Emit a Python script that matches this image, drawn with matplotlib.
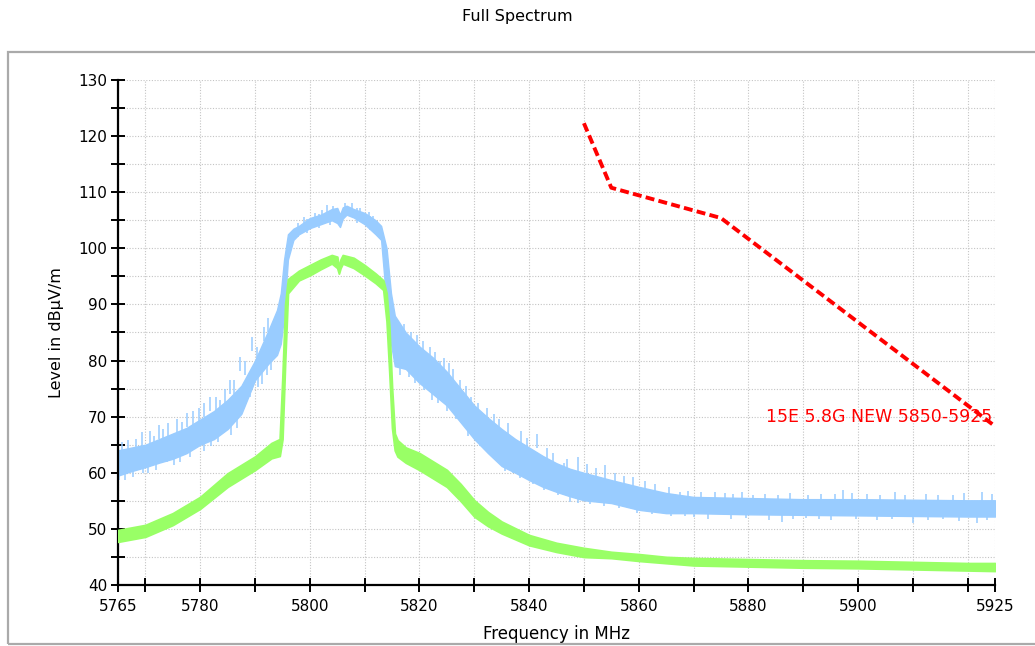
import matplotlib
matplotlib.use("Agg")
import matplotlib.pyplot as plt
from matplotlib.patches import Rectangle

# ---------------- data ----------------
title = "Full Spectrum"
xlabel = "Frequency in MHz"
ylabel = "Level in dBµV/m"
limit_label = "15E 5.8G NEW 5850-5925"

# blue trace envelope (upper / lower edge of the noisy band)
blue_f = [5765, 5767.5, 5770, 5772.5, 5775, 5777.5, 5780, 5782.5, 5785, 5787.5,
          5790, 5792.5, 5794, 5794.7, 5795.3, 5796, 5797, 5798, 5800, 5802, 5804,
          5805, 5805.5, 5806, 5806.7, 5808, 5810, 5812, 5813, 5814, 5814.8, 5815.5,
          5817.5, 5820, 5822.5, 5825, 5827.5, 5830, 5832.5, 5835, 5837.5, 5840,
          5842.5, 5845, 5847.5, 5850, 5855, 5860, 5865, 5870, 5880, 5890, 5900,
          5910, 5920, 5925]
blue_hi = [64.0, 64.5, 65.0, 66.0, 67.0, 68.0, 69.5, 71.0, 73.0, 75.5,
           80.0, 85.5, 89.0, 92.0, 98.0, 102.5, 103.5, 104.0, 105.4, 106.0, 107.0,
           107.2, 106.0, 107.3, 107.6, 107.0, 106.3, 105.0, 104.0, 100.0, 92.0, 88.0,
           85.0, 82.5, 80.5, 78.0, 75.0, 72.0, 69.8, 67.8, 66.0, 64.5,
           63.0, 61.7, 60.7, 60.0, 58.7, 57.5, 56.4, 55.7, 55.5, 55.3, 55.3,
           55.2, 55.1, 55.1]
blue_lo = [59.5, 60.3, 61.0, 61.8, 62.5, 63.5, 65.0, 66.0, 67.8, 70.5,
           76.5, 79.5, 81.0, 83.0, 88.0, 98.0, 101.5, 102.5, 103.6, 104.3, 105.0,
           104.5, 103.8, 105.3, 106.0, 105.5, 104.3, 102.5, 101.5, 90.0, 83.0, 79.0,
           78.5, 76.0, 74.0, 72.0, 69.0, 66.0, 63.5, 61.2, 60.0, 58.7,
           57.5, 56.6, 55.8, 55.1, 54.6, 53.4, 52.8, 52.8, 52.6, 52.5, 52.4,
           52.3, 52.2, 52.2]

# noise spikes on the blue trace poking above the band: frequency, tip level
spike_up_f = [5765.7, 5766.8, 5768.2, 5769.3, 5770.8, 5771.6, 5772.4, 5773.2, 5774.2,
              5775.8, 5776.6, 5777.5, 5778.6, 5779.8, 5780.6, 5781.8, 5782.8, 5783.6,
              5784.6, 5785.4, 5786.2, 5787.3, 5788.2, 5789.4, 5790.4, 5791.6, 5792.4,
              5797.8, 5799.0, 5801.0, 5802.2, 5803.1, 5804.2, 5806.4, 5807.6, 5809.2,
              5810.8, 5811.6, 5812.2,
              5816.5, 5817.2, 5818.4, 5819.6, 5820.7, 5821.9, 5822.8, 5823.8, 5824.4,
              5825.3, 5826.2, 5827.4, 5828.4, 5829.4, 5830.6, 5832.3, 5833.6, 5834.6,
              5836.2, 5838.6, 5839.6, 5841.4, 5843.2, 5844.4, 5846.3, 5847.0, 5849.0,
              5850.6, 5852.2, 5853.9, 5855.6, 5857.4, 5859.0, 5861.2, 5863.0, 5865.6,
              5867.6, 5869.0, 5871.4, 5873.9, 5875.7, 5877.2, 5878.8, 5880.9, 5883.0,
              5885.4, 5887.6, 5890.8, 5893.2, 5895.8, 5897.2, 5898.9, 5901.6, 5904.0,
              5906.8, 5908.6, 5912.4, 5914.6, 5917.4, 5919.4, 5922.6, 5924.4]
spike_up_v = [65.5, 65.8, 66.0, 67.3, 67.5, 66.5, 68.5, 67.8, 68.9,
              69.5, 69.0, 70.6, 71.0, 71.5, 72.5, 73.5, 73.5, 73.0,
              75.0, 76.5, 76.5, 80.7, 80.0, 84.2, 82.5, 86.0, 87.5,
              104.5, 105.5, 106.3, 106.8, 107.7, 107.6, 108.0, 108.0, 107.2,
              106.5, 105.8, 104.9,
              86.3, 86.5, 85.0, 84.5, 83.5, 82.5, 81.5, 80.0, 80.5,
              79.5, 78.5, 76.5, 75.5, 73.5, 72.5, 71.5, 70.5, 69.5,
              68.8, 67.5, 66.2, 67.0, 64.5, 63.5, 61.7, 62.5, 62.9,
              61.5, 60.8, 61.4, 60.0, 59.5, 59.3, 58.5, 58.0, 57.5,
              56.6, 56.8, 56.5, 56.6, 56.4, 56.2, 56.5, 56.0, 56.3,
              56.0, 56.4, 56.0, 56.2, 56.3, 57.0, 56.4, 56.2, 56.0,
              56.5, 56.0, 56.3, 56.1, 56.0, 56.4, 56.6, 56.3]
# noise spikes reaching below the band
spike_dn_f = [5765.2, 5766.3, 5767.8, 5769.6, 5770.4, 5772.0, 5773.9, 5775.2, 5776.4,
              5778.2, 5779.4, 5780.6, 5782.0, 5783.2, 5784.2, 5785.6, 5786.8, 5787.9,
              5789.0, 5790.6, 5791.2, 5792.2, 5793.0,
              5799.4, 5801.6, 5803.6, 5808.6, 5811.0,
              5816.4, 5818.0, 5819.2, 5820.9, 5822.2, 5823.4, 5825.0, 5826.6, 5828.8,
              5831.0, 5832.0, 5833.8, 5835.6, 5837.1, 5838.4, 5840.8, 5842.8, 5845.2,
              5847.5, 5849.0, 5851.1, 5853.6, 5856.4, 5859.7, 5862.4, 5865.8, 5868.4,
              5870.0, 5872.6, 5876.8, 5879.6, 5883.8, 5886.1, 5888.2, 5890.6, 5892.8,
              5895.0, 5899.6, 5903.4, 5906.2, 5910.1, 5912.8, 5915.6, 5918.4, 5921.7,
              5923.6]
spike_dn_v = [58.8, 58.7, 59.2, 59.9, 60.0, 60.5, 62.0, 61.3, 62.0,
              62.8, 64.6, 63.8, 64.8, 65.4, 67.6, 66.8, 68.0, 72.1,
              73.5, 75.3, 75.9, 77.5, 78.3,
              102.8, 103.6, 104.2, 104.6, 103.2,
              77.5, 77.0, 76.0, 74.7, 73.0, 72.5, 71.0, 69.5, 66.5,
              64.8, 64.0, 62.5, 60.3, 59.9, 59.0, 58.0, 57.0, 56.0,
              54.8, 54.6, 54.5, 54.0, 53.8, 52.8, 52.7, 52.3, 52.3,
              52.2, 51.8, 51.7, 51.9, 51.6, 51.3, 51.7, 51.9, 51.8,
              51.5, 51.8, 51.6, 51.7, 51.0, 51.6, 51.8, 51.4, 51.0,
              51.5]

# green trace envelope
green_f = [5765, 5770, 5775, 5780, 5785, 5790, 5793, 5794.5, 5795, 5795.5, 5796,
           5798, 5800, 5802, 5804, 5805, 5805.3, 5805.6, 5806, 5808, 5810, 5812,
           5813.4, 5814, 5814.5, 5815, 5815.5, 5816, 5817.5, 5820, 5822.5, 5825,
           5827.5, 5830, 5832.5, 5835, 5840, 5845, 5850, 5855, 5860, 5865, 5870,
           5880, 5890, 5900, 5910, 5920, 5925]
green_hi = [49.8, 50.7, 52.8, 55.7, 59.9, 62.9, 65.3, 66.0, 77.0, 90.0, 94.5,
            96.0, 97.0, 98.0, 98.8, 98.5, 96.5, 98.0, 98.8, 98.3, 97.0, 95.5,
            94.3, 92.0, 86.0, 75.0, 67.0, 65.8, 64.5, 63.5, 62.0, 60.5,
            58.0, 55.1, 53.0, 51.3, 48.9, 47.5, 46.6, 45.9, 45.5, 45.0, 44.8,
            44.6, 44.4, 44.3, 44.1, 43.9, 43.9]
green_lo = [47.7, 48.6, 50.7, 53.6, 57.5, 60.5, 62.6, 63.0, 66.0, 80.0, 92.0,
            94.3, 95.2, 96.3, 97.3, 96.5, 95.5, 96.5, 97.3, 96.5, 95.2, 93.8,
            92.6, 87.0, 78.0, 68.0, 64.0, 62.9, 61.8, 60.5, 59.0, 57.5,
            55.0, 52.2, 50.5, 49.2, 47.1, 45.9, 45.0, 44.8, 44.3, 43.9, 43.5,
            43.3, 43.1, 43.0, 42.8, 42.6, 42.5]

# limit line
limit_f = [5850, 5855, 5875, 5925]
limit_v = [122.3, 110.8, 105.4, 68.3]

# axes ticks
xticks = [5765, 5770, 5780, 5790, 5800, 5810, 5820, 5830, 5840, 5850, 5860,
          5870, 5880, 5890, 5900, 5910, 5920, 5925]
xlabels = ["5765", "", "5780", "", "5800", "", "5820", "", "5840", "", "5860",
           "", "5880", "", "5900", "", "", "5925"]
yticks = [40, 45, 50, 55, 60, 65, 70, 75, 80, 85, 90, 95, 100, 105, 110, 115,
          120, 125, 130]
ylabels = ["40", "", "50", "", "60", "", "70", "", "80", "", "90", "", "100", "",
           "110", "", "120", "", "130"]

# ---------------- drawing ----------------
BLUE = "#99ccff"
GREEN = "#99ff66"
SPIKE_DEPTH = 2.5   # how far a spike segment reaches back into the band

plt.rcParams["font.family"] = ["DejaVu Sans"]
fig = plt.figure(figsize=(10.35, 6.46), dpi=100)
fig.patch.set_facecolor("white")

# outer frame
fig.patches.append(Rectangle((8 / 1035, 1 - 644 / 646), 1.2, (644 - 52) / 646,
                             transform=fig.transFigure, fill=False,
                             edgecolor="#aaaaaa", linewidth=1.6, zorder=0))

ax = fig.add_axes([118 / 1035, 1 - 585 / 646, (995 - 118) / 1035, (585 - 80) / 646])
ax.set_facecolor("none")

ax.fill_between(blue_f, blue_lo, blue_hi, color=BLUE, linewidth=1.0,
                edgecolor=BLUE, zorder=2)
ax.vlines(spike_up_f, [v - SPIKE_DEPTH for v in spike_up_v], spike_up_v,
          colors=BLUE, linewidth=1.1, zorder=2)
ax.vlines(spike_dn_f, spike_dn_v, [v + SPIKE_DEPTH for v in spike_dn_v],
          colors=BLUE, linewidth=1.1, zorder=2)
ax.fill_between(green_f, green_lo, green_hi, color=GREEN, linewidth=1.4,
                edgecolor=GREEN, zorder=3)
ax.plot(limit_f, limit_v, color="#ff0000", linewidth=2.8,
        linestyle=(0, (2.3, 1.1)), zorder=4)
ax.text(5924.5, 70.0, limit_label, color="#ff0000", fontsize=12.5,
        ha="right", va="center", zorder=5)

ax.set_xlim(5765, 5925)
ax.set_ylim(40, 130)
ax.set_xticks(xticks)
ax.set_xticklabels(xlabels)
ax.set_yticks(yticks)
ax.set_yticklabels(ylabels)
ax.tick_params(direction="inout", length=9.5, width=1.4, labelsize=11,
               colors="black")
ax.tick_params(axis="x", pad=5)
ax.tick_params(axis="y", pad=3)
ax.grid(True, color="#c4c4c4", linestyle=(0, (1, 1.5)), linewidth=0.8, zorder=1)
ax.set_axisbelow(True)
for s in ("top", "right"):
    ax.spines[s].set_visible(False)
for s in ("left", "bottom"):
    ax.spines[s].set_linewidth(1.6)

ax.set_xlabel(xlabel, fontsize=12, labelpad=8)
ax.set_ylabel(ylabel, fontsize=11.5, labelpad=10)
fig.text(0.5, 1 - 17 / 646, title, ha="center", va="center", fontsize=11.5)

fig.savefig("out.png", dpi=100, facecolor="white")
